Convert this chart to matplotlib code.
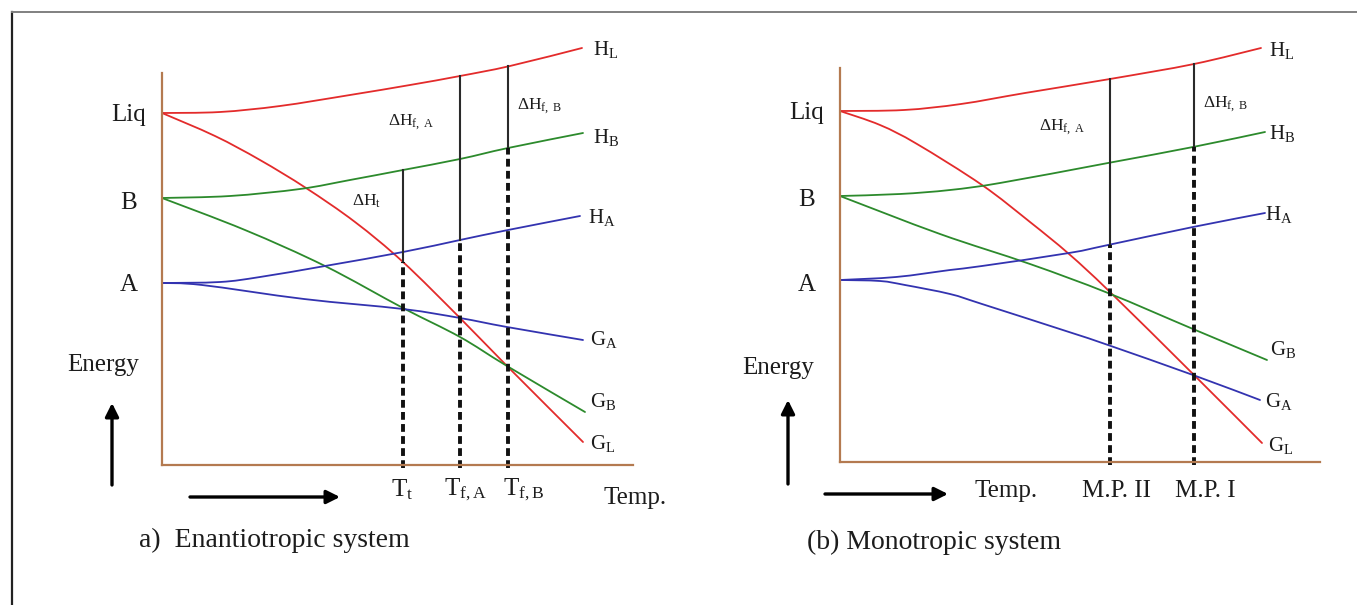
import numpy as np
import matplotlib
matplotlib.use("Agg")
import matplotlib.pyplot as plt
from matplotlib.lines import Line2D
from matplotlib.path import Path
from matplotlib.patches import PathPatch

plt.rcParams['font.family'] = ['Liberation Serif', 'DejaVu Serif']
plt.rcParams['mathtext.fontset'] = 'custom'
plt.rcParams['mathtext.rm'] = 'Liberation Serif'
plt.rcParams['mathtext.it'] = 'Liberation Serif:italic'

RED = '#e32b2b'
GREEN = '#2c8a2c'
BLUE = '#3333b0'
BROWN = '#b47a50'
INK = '#1c1c1c'

# ---- panel a: enantiotropic (temperature, energy in picture units) ----
a_HL_T = [0, 58, 118, 188, 248, 298, 348, 420]
a_HL_E = [352, 353, 359, 370, 380, 389, 399, 417]
a_HB_T = [0, 68, 138, 188, 241, 298, 346, 421]
a_HB_E = [267, 269, 276, 285, 295, 306, 317, 332]
a_HA_T = [0, 58, 98, 163, 241, 298, 346, 418]
a_HA_E = [182, 183, 188, 199, 213, 225, 235, 249]
a_GA_T = [0, 40, 142, 241, 298, 345, 421]
a_GA_E = [182, 180, 166, 156, 147, 138, 125]
a_GB_T = [0, 83, 163, 241, 298, 345, 423]
a_GB_E = [267, 235, 199, 157, 128, 99, 53]
a_GL_T = [0, 53, 98, 144, 193, 241, 298, 345, 421]
a_GL_E = [352, 329, 305, 277, 243, 203, 147, 99, 23]
a_Tt, a_TfA, a_TfB = 241, 298, 346

# ---- panel b: monotropic ----
b_HL_T = [0, 64, 121, 185, 270, 354, 421]
b_HL_E = [351, 352, 358, 369, 383, 398, 414]
b_HB_T = [0, 60, 110, 160, 268, 353, 425]
b_HB_E = [266, 268, 272, 279, 299, 315, 330]
b_HA_T = [0, 56, 110, 142, 229, 268, 353, 425]
b_HA_E = [182, 185, 192, 196, 209, 217, 235, 249]
b_GB_T = [0, 100, 190, 268, 353, 427]
b_GB_E = [266, 228, 198, 169, 133, 102]
b_GA_T = [0, 40, 65, 110, 142, 229, 268, 353, 420]
b_GA_E = [182, 181, 177, 168, 158, 130, 117, 87, 62]
b_GL_T = [0, 40, 77, 142, 190, 229, 270, 354, 422]
b_GL_E = [351, 337, 318, 277, 240, 208, 170, 87, 19]
b_MP2, b_MP1 = 270, 354

W, H = 1357, 605
fig = plt.figure(figsize=(W / 100, H / 100), dpi=100)
fig.patch.set_facecolor('white')

# outer frame
fig.add_artist(Line2D([12 / W, 12 / W], [0, 1 - 12 / H], color='#222222', lw=1.6))
fig.add_artist(Line2D([12 / W, 1], [1 - 12 / H, 1 - 12 / H], color='#808080', lw=1.4))


def make_axes(left, bottom, right, top):
    ax = fig.add_axes([left / W, 1 - bottom / H, (right - left) / W, (bottom - top) / H])
    ax.set_xlim(0, right - left)
    ax.set_ylim(0, bottom - top)
    ax.patch.set_visible(False)
    for s in ['top', 'right']:
        ax.spines[s].set_visible(False)
    for s in ['left', 'bottom']:
        ax.spines[s].set_color(BROWN)
        ax.spines[s].set_linewidth(1.6)
    ax.set_xticks([])
    ax.set_yticks([])
    return ax


def curve(ax, T, E, c):
    # smooth line through the read points (Catmull-Rom drawn as cubic Beziers)
    p = np.column_stack([T, E]).astype(float)
    ext = np.vstack([p[0], p, p[-1]])
    verts = [p[0]]
    codes = [Path.MOVETO]
    for i in range(len(p) - 1):
        p0, p1, p2, p3 = ext[i], ext[i + 1], ext[i + 2], ext[i + 3]
        verts += [p1 + (p2 - p0) / 6, p2 - (p3 - p1) / 6, p2]
        codes += [Path.CURVE4] * 3
    ax.add_patch(PathPatch(Path(verts, codes), fill=False, edgecolor=c, lw=1.3,
                           clip_on=False, capstyle='round'))


def vline(ax, t, top_T, top_E, brk_T, brk_E):
    top = np.interp(t, top_T, top_E)
    brk = np.interp(t, brk_T, brk_E)
    ax.plot([t, t], [brk, top], color='#2a2a2a', lw=1.5, clip_on=False)
    ax.plot([t, t], [-3, brk], color='#111111', lw=2.8, linestyle=(0, (2.0, 1.1)),
            clip_on=False)


def arrows(ax, up_T, up_E0, up_E1, r_T0, r_T1, r_E):
    props = dict(arrowstyle='-|>', color='black', lw=2.4, mutation_scale=20,
                 shrinkA=0, shrinkB=0)
    ax.annotate('', xy=(up_T, up_E1), xytext=(up_T, up_E0), arrowprops=props,
                annotation_clip=False)
    ax.annotate('', xy=(r_T1, r_E), xytext=(r_T0, r_E), arrowprops=props,
                annotation_clip=False)


FS = 18
SUB = 15
CAP = 20
DH = 12.5

# ===== panel a =====
ax = make_axes(162, 465, 633, 73)
curve(ax, a_HL_T, a_HL_E, RED)
curve(ax, a_GL_T, a_GL_E, RED)
curve(ax, a_HB_T, a_HB_E, GREEN)
curve(ax, a_GB_T, a_GB_E, GREEN)
curve(ax, a_HA_T, a_HA_E, BLUE)
curve(ax, a_GA_T, a_GA_E, BLUE)
vline(ax, a_Tt, a_HB_T, a_HB_E, a_GL_T, a_GL_E)
vline(ax, a_TfA, a_HL_T, a_HL_E, a_HA_T, a_HA_E)
vline(ax, a_TfB, a_HL_T, a_HL_E, a_HB_T, a_HB_E)

for lab, y in [('Liq', 350), ('B', 262), ('A', 180)]:
    ax.text(-33, y, lab, fontsize=FS, ha='center', va='center', color=INK)
ax.text(-59, 100, 'Energy', fontsize=FS, ha='center', va='center', color=INK)
arrows(ax, -50, -20, 62, 28, 178, -32)
for t, lab in [(240, 'T$_\\mathrm{t}$'), (303, 'T$_\\mathrm{f,A}$'), (362, 'T$_\\mathrm{f,B}$')]:
    ax.text(t, -25, lab, fontsize=FS, ha='center', va='center', color=INK)
ax.text(473, -33, 'Temp.', fontsize=FS, ha='center', va='center', color=INK)
ax.text(-23, -75, 'a)  Enantiotropic system', fontsize=CAP, ha='left', va='center',
        color=INK)
for lab, x, y in [('H$_\\mathrm{L}$', 431, 415), ('H$_\\mathrm{B}$', 431, 328),
                  ('H$_\\mathrm{A}$', 426, 247), ('G$_\\mathrm{A}$', 428, 125),
                  ('G$_\\mathrm{B}$', 428, 64), ('G$_\\mathrm{L}$', 428, 21)]:
    ax.text(x, y, lab, fontsize=SUB, ha='left', va='center', color=INK)
ax.text(249, 343, 'ΔH$_\\mathrm{f,\\ A}$', fontsize=DH, ha='center', va='center', color=INK)
ax.text(378, 359, 'ΔH$_\\mathrm{f,\\ B}$', fontsize=DH, ha='center', va='center', color=INK)
ax.text(205, 264, 'ΔH$_\\mathrm{t}$', fontsize=DH, ha='center', va='center', color=INK)

# ===== panel b =====
ax = make_axes(840, 462, 1320, 68)
curve(ax, b_HL_T, b_HL_E, RED)
curve(ax, b_GL_T, b_GL_E, RED)
curve(ax, b_HB_T, b_HB_E, GREEN)
curve(ax, b_GB_T, b_GB_E, GREEN)
curve(ax, b_HA_T, b_HA_E, BLUE)
curve(ax, b_GA_T, b_GA_E, BLUE)
vline(ax, b_MP2, b_HL_T, b_HL_E, b_HA_T, b_HA_E)
vline(ax, b_MP1, b_HL_T, b_HL_E, b_HB_T, b_HB_E)

for lab, y in [('Liq', 349), ('B', 262), ('A', 177)]:
    ax.text(-33, y, lab, fontsize=FS, ha='center', va='center', color=INK)
ax.text(-62, 94, 'Energy', fontsize=FS, ha='center', va='center', color=INK)
arrows(ax, -52, -22, 62, -15, 108, -32)
ax.text(166, -29, 'Temp.', fontsize=FS, ha='center', va='center', color=INK)
ax.text(277, -29, 'M.P. II', fontsize=FS, ha='center', va='center', color=INK)
ax.text(365, -29, 'M.P. I', fontsize=FS, ha='center', va='center', color=INK)
ax.text(-33, -80, '(b) Monotropic system', fontsize=CAP, ha='left', va='center',
        color=INK)
for lab, x, y in [('H$_\\mathrm{L}$', 429, 412), ('H$_\\mathrm{B}$', 429, 329),
                  ('H$_\\mathrm{A}$', 425, 248), ('G$_\\mathrm{B}$', 430, 113),
                  ('G$_\\mathrm{A}$', 425, 61), ('G$_\\mathrm{L}$', 428, 16)]:
    ax.text(x, y, lab, fontsize=SUB, ha='left', va='center', color=INK)
ax.text(222, 335, 'ΔH$_\\mathrm{f,\\ A}$', fontsize=DH, ha='center', va='center', color=INK)
ax.text(386, 358, 'ΔH$_\\mathrm{f,\\ B}$', fontsize=DH, ha='center', va='center', color=INK)

fig.savefig('out.png', dpi=100)
